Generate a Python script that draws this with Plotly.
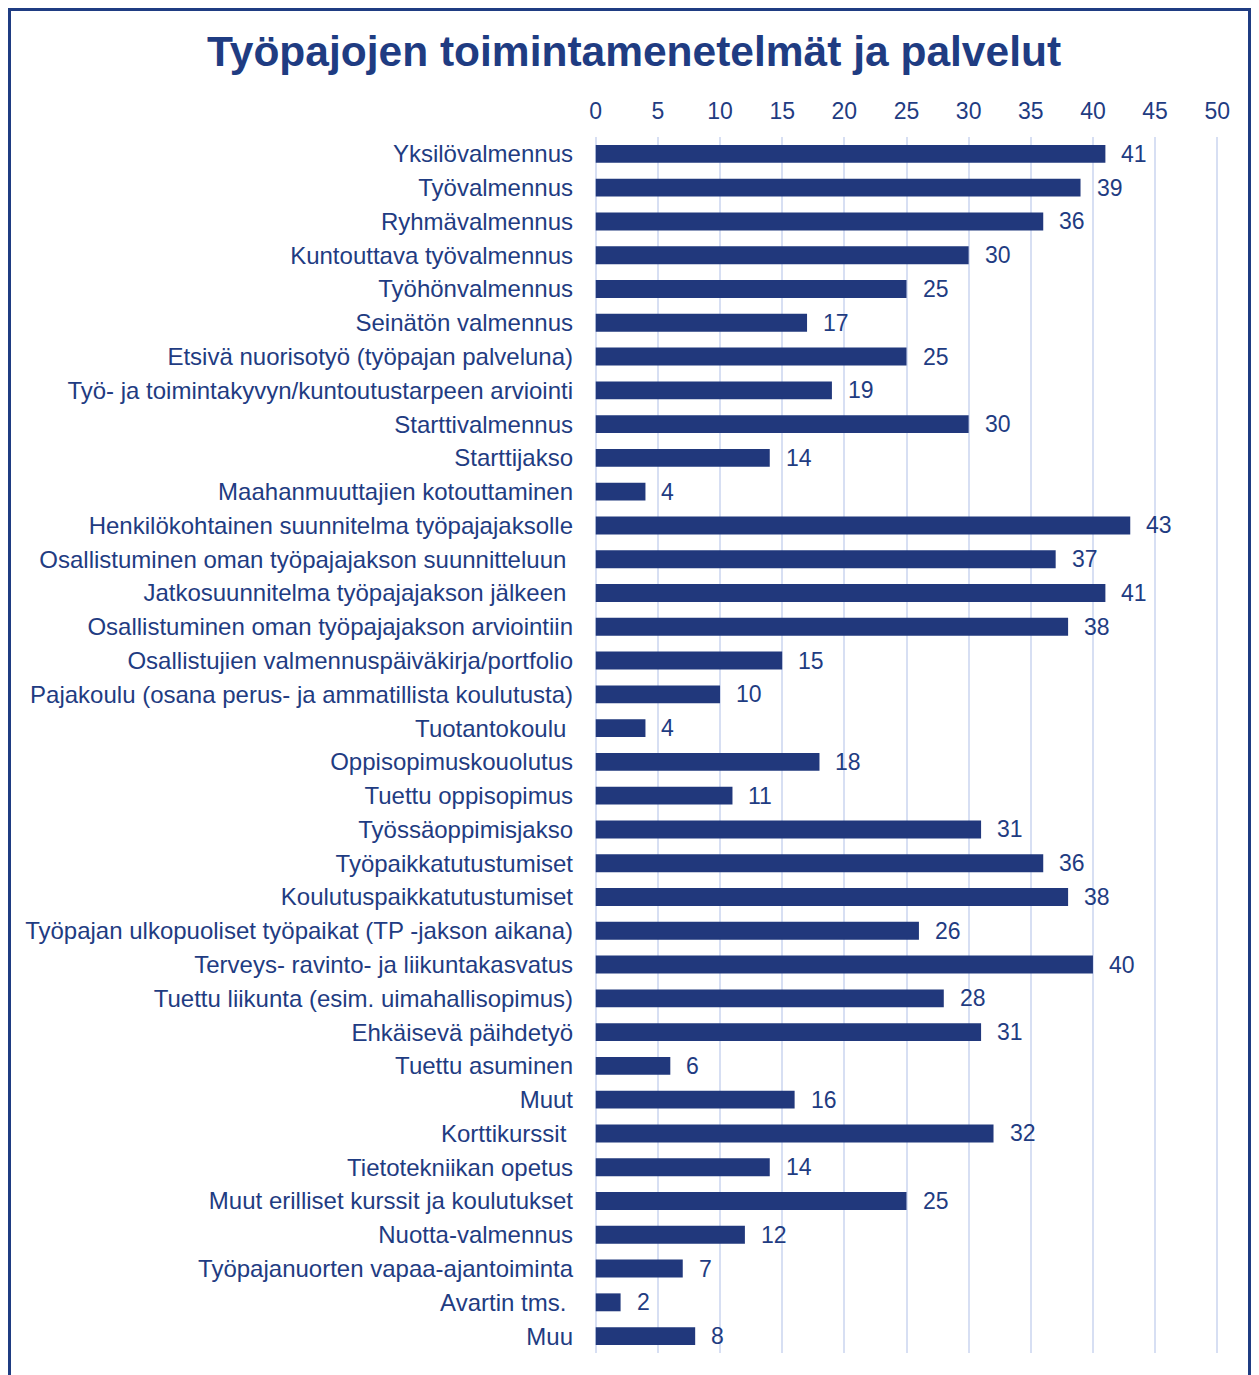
"""
Työpajojen toimintamenetelmät ja palvelut - horizontal bar chart
"""

import plotly.graph_objects as go

NAVY = '#1F3C82'
BAR = '#21387C'
GRID = '#D7DFF3'
FONT = 'Liberation Sans, Arial'

categories = [
    'Yksilövalmennus', 'Työvalmennus', 'Ryhmävalmennus', 'Kuntouttava työvalmennus',
    'Työhönvalmennus', 'Seinätön valmennus', 'Etsivä nuorisotyö (työpajan palveluna)',
    'Työ- ja toimintakyvyn/kuntoutustarpeen arviointi', 'Starttivalmennus', 'Starttijakso',
    'Maahanmuuttajien kotouttaminen', 'Henkilökohtainen suunnitelma työpajajaksolle',
    'Osallistuminen oman työpajajakson suunnitteluun\u00a0', 'Jatkosuunnitelma työpajajakson jälkeen\u00a0',
    'Osallistuminen oman työpajajakson arviointiin', 'Osallistujien valmennuspäiväkirja/portfolio',
    'Pajakoulu (osana perus- ja ammatillista koulutusta)', 'Tuotantokoulu\u00a0',
    'Oppisopimuskouolutus', 'Tuettu oppisopimus', 'Työssäoppimisjakso', 'Työpaikkatutustumiset',
    'Koulutuspaikkatutustumiset', 'Työpajan ulkopuoliset työpaikat (TP -jakson aikana)',
    'Terveys- ravinto- ja liikuntakasvatus', 'Tuettu liikunta (esim. uimahallisopimus)',
    'Ehkäisevä päihdetyö', 'Tuettu asuminen', 'Muut', 'Korttikurssit\u00a0', 'Tietotekniikan opetus',
    'Muut erilliset kurssit ja koulutukset', 'Nuotta-valmennus', 'Työpajanuorten vapaa-ajantoiminta',
    'Avartin tms.\u00a0', 'Muu',
]
values = [41, 39, 36, 30, 25, 17, 25, 19, 30, 14, 4, 43, 37, 41, 38, 15, 10, 4, 18, 11,
          31, 36, 38, 26, 40, 28, 31, 6, 16, 32, 14, 25, 12, 7, 2, 8]
x_ticks = list(range(0, 51, 5))

W, H = 1259, 1375
ML, MR, MT, MB = 584, 46, 129, 30
pw, ph = W - ML - MR, H - MT - MB


def px_x(px):
    return (px - ML) / pw


def px_y(py):
    return 1 - (py - MT) / ph


fig = go.Figure()
fig.add_trace(go.Bar(
    x=values, y=categories, orientation='h', width=0.53,
    marker=dict(color=BAR, line=dict(width=0)), hoverinfo='x+y'
))

for v, c in zip(values, categories):
    fig.add_annotation(x=v, y=c, text=str(v), showarrow=False, xanchor='left', xshift=14,
                       font=dict(size=23, color=NAVY, family=FONT))

# frame around the chart (left, top, right; bottom runs off the page)
fig.add_shape(type='rect', xref='paper', yref='paper',
              x0=px_x(1), x1=px_x(1242), y0=px_y(H + 50), y1=px_y(1),
              line=dict(color=NAVY, width=4), fillcolor='rgba(0,0,0,0)', layer='above')

fig.update_layout(
    width=W, height=H, margin=dict(l=ML, r=MR, t=MT, b=MB),
    paper_bgcolor='white', plot_bgcolor='white', showlegend=False, bargap=0.47,
    font=dict(family=FONT, color=NAVY, size=24),
    title=dict(text='<b>Työpajojen toimintamenetelmät ja palvelut</b>', x=626 / W, xanchor='center',
               y=1 - 43 / H, yanchor='middle', font=dict(size=42.5, color=NAVY)),
    xaxis=dict(side='top', range=[-0.3, 50.3], tickvals=x_ticks, showgrid=True, gridcolor=GRID, gridwidth=2,
               zeroline=False, showline=False, ticks='', tickfont=dict(size=23, color=NAVY), ticklabelstandoff=12),
    yaxis=dict(autorange='reversed', showgrid=False, showline=False, ticks='',
               tickfont=dict(size=24, color=NAVY), ticklabelstandoff=18),
)

fig.write_html("out.html")
